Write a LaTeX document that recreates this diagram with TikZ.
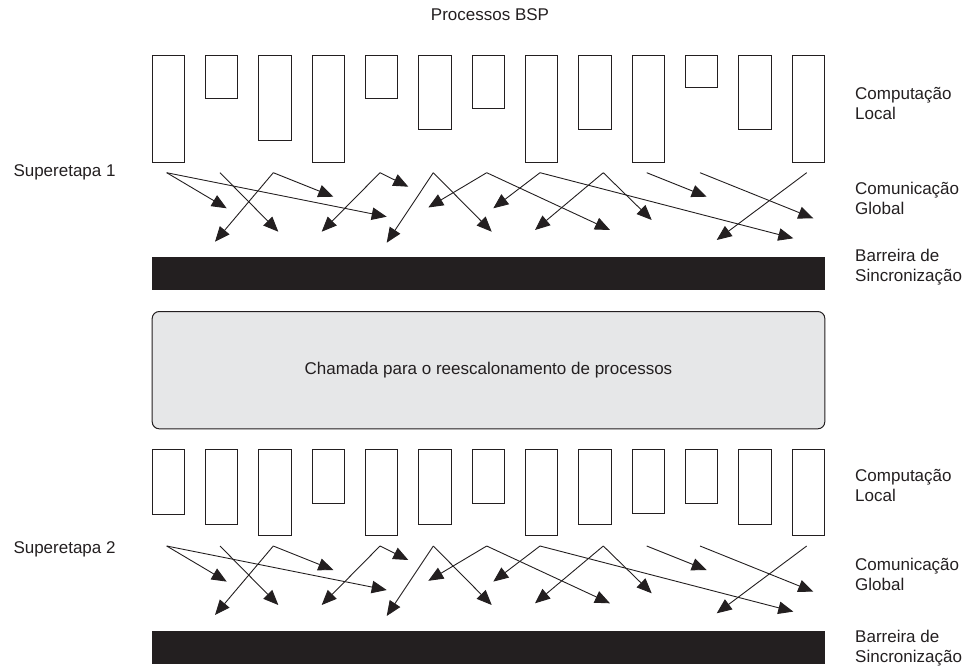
\documentclass[tikz,border=0pt]{standalone}
\usepackage{fontspec}
\setmainfont{Liberation Sans}
\usetikzlibrary{arrows.meta}
\definecolor{ink}{HTML}{231F20}
\definecolor{panel}{HTML}{E6E7E8}
\begin{document}
\begin{tikzpicture}[x=1pt,y=-1pt,
  proc/.style={draw=ink, line width=1.1pt, fill=white, inner sep=0pt,
    minimum width=32.3pt, anchor=north west},
  msg/.style={draw=ink, line width=0.9pt, -{Triangle[length=15pt,width=12.5pt]}},
  barrier/.style={fill=ink, draw=none, inner sep=0pt, minimum width=672.6pt,
    minimum height=33pt, anchor=north west},
  callbox/.style={draw=ink, fill=panel, line width=1pt, rounded corners=7pt,
    minimum width=672.6pt, minimum height=117.3pt, anchor=north west,
    font=\fontsize{17}{20}\selectfont, text=ink},
  lbl/.style={font=\fontsize{17}{20}\selectfont, text=ink, inner sep=0pt},
  side/.style={lbl, anchor=base west, align=left}]
\useasboundingbox (0,0) rectangle (965,666);

% title
\node[lbl] (title) at (490,15) {Processos BSP};

% superstep labels
\node[lbl, anchor=base west] (ss1) at (13.3,176) {Superetapa 1};
\node[lbl, anchor=base west] (ss2) at (13.3,553) {Superetapa 2};

% processes (local computation), superstep 1
\foreach \h [count=\i] in {106.7,42.7,85,106.7,42.7,74.3,53.3,106.7,74.3,106.7,31.7,74.3,106.7}
  \node[proc, minimum height=\h pt] (pa\i) at ({151.7+53.33*(\i-1)},55) {};
% processes (local computation), superstep 2
\foreach \h [count=\i] in {64.7,75,85.7,53.4,85.7,75,53.4,85.7,75,64,53.4,75,85.7}
  \node[proc, minimum height=\h pt] (pb\i) at ({151.7+53.33*(\i-1)},449.3) {};

% global communication: start x / tip x / tip y
\foreach \k/\dy in {1/0,2/373.3}{
  \foreach \sx/\tx/\ty [count=\i] in {
      166.7/226.7/208.3, 166.7/386.7/216.7, 220/278.3/231.7,
      273.3/215/241.7, 273.3/333.3/196.7, 380/408.3/186.7,
      380/321.7/231.7, 433.3/386.7/242.7, 433.3/491.7/231.7,
      486.7/428.3/207.5, 486.7/610/230, 540/493.3/208.3,
      540/793.3/238.3, 603.3/535/230, 603.3/651.7/220,
      646.7/706.7/196.7, 700/813.3/218.3, 806.7/716.7/240}{
    \coordinate (s\k-\i) at (\sx,{172.7+\dy});
    \coordinate (t\k-\i) at (\tx,{\ty+\dy});
    \draw[msg] (s\k-\i) -- (t\k-\i);
  }
}

% synchronisation barriers
\node[barrier] (bar1) at (151.7,256.7) {};
\node[barrier, minimum height=32.6pt] (bar2) at (151.7,630.7) {};

% rescheduling call
\node[callbox] (call) at (151.7,311) {Chamada para o reescalonamento de processos};

% phase labels on the right (anchored at the baseline of the second line)
\node[side] (cl1) at (855,119.3) {Computação\\Local};
\node[side] (cg1) at (855,214.8) {Comunicação\\Global};
\node[side] (bs1) at (855,281.7) {Barreira de\\Sincronização};
\node[side] (cl2) at (855,501.5) {Computação\\Local};
\node[side] (cg2) at (855,590) {Comunicação\\Global};
\node[side] (bs2) at (855,662) {Barreira de\\Sincronização};
\end{tikzpicture}
\end{document}
